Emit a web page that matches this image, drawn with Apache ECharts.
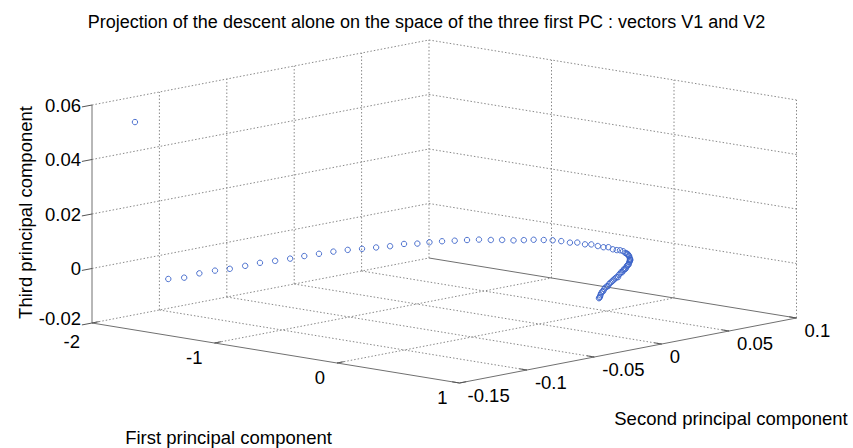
<!DOCTYPE html>
<html><head><meta charset="utf-8">
<script src="https://cdn.jsdelivr.net/npm/echarts@6/dist/echarts.min.js"></script>
<style>html,body{margin:0;padding:0;background:#fff}#c{width:853px;height:448px}</style>
</head><body><div id="c"></div>
<script>
// ---- data: the descent projected on the first three principal components ----
const pc1 = [-1.7,
 -1.4476,-1.3213,-1.2018,-1.0830,-0.9751,-0.8663,-0.7631,-0.6633,-0.5669,-0.4783,
 -0.3904,-0.3080,-0.2283,-0.1522,-0.0807,-0.0123,0.0532,0.1127,0.1649,0.2160,
 0.2654,0.3110,0.3532,0.3923,0.4281,0.4619,0.4913,0.5180,0.5432,0.5645,
 0.5838,0.6015,0.6167,0.6305,0.6422,0.6529,0.6617,0.6692,0.6755,0.6809,
 0.6852,0.6890,0.6918,0.6942,0.6958,0.6969,0.6973,0.7006,0.7039,0.7072,
 0.7105,0.7138,0.7171,0.7204,0.7237,0.7270,0.7303,0.7336,0.7369,0.7402,
 0.7435,0.7468,0.7500,0.7520,0.7540,
 0.6930,0.6950,0.6964,0.6971,0.6990,0.7022,0.7055,0.7088,0.7121,0.7154,
 0.7188,0.7220,0.7254,0.7286,0.7320,0.7352,0.7386,0.7418,0.7452,0.7484];
const pc2 = [-0.1454,
 -0.1436,-0.1434,-0.1429,-0.1421,-0.1410,-0.1395,-0.1378,-0.1357,-0.1333,-0.1308,
 -0.1279,-0.1247,-0.1213,-0.1176,-0.1137,-0.1096,-0.1051,-0.1007,-0.0964,-0.0917,
 -0.0868,-0.0818,-0.0768,-0.0716,-0.0665,-0.0612,-0.0561,-0.0512,-0.0460,-0.0413,
 -0.0367,-0.0320,-0.0278,-0.0235,-0.0197,-0.0159,-0.0126,-0.0095,-0.0069,-0.0044,
 -0.0023,-0.0004,0.0010,0.0023,0.0032,0.0038,0.0040,0.0035,0.0024,0.0011,
 -0.0004,-0.0020,-0.0037,-0.0055,-0.0075,-0.0096,-0.0118,-0.0139,-0.0161,-0.0182,
 -0.0202,-0.0220,-0.0231,-0.0236,-0.0242,
 0.0017,0.0028,0.0035,0.0039,0.0038,0.0030,0.0018,0.0004,-0.0012,-0.0028,
 -0.0046,-0.0065,-0.0086,-0.0107,-0.0128,-0.0150,-0.0171,-0.0192,-0.0211,-0.0226];
const pc3 = [0.0555,
 -0.0004,0.0013,0.0034,0.0052,0.0068,0.0086,0.0100,0.0115,0.0128,0.0139,
 0.0151,0.0162,0.0171,0.0177,0.0186,0.0192,0.0198,0.0202,0.0204,0.0207,
 0.0208,0.0209,0.0209,0.0208,0.0206,0.0203,0.0200,0.0196,0.0192,0.0188,
 0.0182,0.0177,0.0172,0.0165,0.0158,0.0152,0.0146,0.0140,0.0134,0.0128,
 0.0123,0.0118,0.0111,0.0106,0.0099,0.0092,0.0085,0.0078,0.0072,0.0066,
 0.0061,0.0055,0.0050,0.0043,0.0036,0.0030,0.0024,0.0018,0.0012,0.0005,
 -0.0002,-0.0012,-0.0023,-0.0025,-0.0027,
 0.0108,0.0103,0.0096,0.0089,0.0082,0.0075,0.0069,0.0063,0.0058,0.0052,
 0.0047,0.0040,0.0033,0.0027,0.0021,0.0015,0.0008,0.0001,-0.0007,-0.0018];

const xTicks = [-2, -1, 0, 1];
const yTicks = [-0.15, -0.1, -0.05, 0, 0.05, 0.1];
const zTicks = [-0.02, 0, 0.02, 0.04, 0.06];
const xTickLabels = ['-2', '-1', '0', '1'];
const yTickLabels = ['-0.15', '-0.1', '-0.05', '0', '0.05', '0.1'];
const zTickLabels = ['-0.02', '0', '0.02', '0.04', '0.06'];

const titleText = 'Projection of the descent alone on the space of the three first PC : vectors V1 and V2';
const xName = 'First principal component';
const yName = 'Second principal component';
const zName = 'Third principal component';

// ---- 3D box (orthographic view) ----
const X0 = xTicks[0], X1 = xTicks[xTicks.length - 1];
const Y0 = yTicks[0], Y1 = yTicks[yTicks.length - 1];
const Z0 = zTicks[0], Z1 = zTicks[zTicks.length - 1];
const ORIGIN = [92, 323];
const EX = [367.5, 60], EY = [337, -65], EZ = [0, -218];
function P(x, y, z) {
  const u = (x - X0) / (X1 - X0), v = (y - Y0) / (Y1 - Y0), w = (z - Z0) / (Z1 - Z0);
  return [ORIGIN[0] + u * EX[0] + v * EY[0] + w * EZ[0],
          ORIGIN[1] + u * EX[1] + v * EY[1] + w * EZ[1]];
}
const FONT = '"Liberation Sans", Arial, Helvetica, sans-serif';

// segments: [x1,y1,z1,x2,y2,z2,kind]  kind 0 = dotted grid, 1 = solid axis, 2 = tick
const segs = [];
yTicks.forEach(y => { if (y !== Y0) segs.push([X0, y, Z0, X0, y, Z1, 0]); });
zTicks.forEach(z => { segs.push([X0, Y0, z, X0, Y1, z, 0]); });
xTicks.forEach(x => { if (x !== X0) segs.push([x, Y1, Z0, x, Y1, Z1, 0]); });
zTicks.forEach(z => { segs.push([X0, Y1, z, X1, Y1, z, z === Z0 ? 1 : 0]); });
xTicks.forEach(x => { if (x !== X0 && x !== X1) segs.push([x, Y0, Z0, x, Y1, Z0, 0]); });
yTicks.forEach(y => { if (y !== Y0 && y !== Y1) segs.push([X0, y, Z0, X1, y, Z0, 0]); });
segs.push([X0, Y0, Z0, X0, Y0, Z1, 1]);
segs.push([X0, Y0, Z0, X1, Y0, Z0, 1]);
segs.push([X1, Y0, Z0, X1, Y1, Z0, 1]);
const dY = (Y1 - Y0), dX = (X1 - X0);
zTicks.forEach(z => segs.push([X0, Y0, z, X0, Y0 - 0.03 * dY, z, 2]));
xTicks.forEach(x => segs.push([x, Y0, Z0, x, Y0 + 0.02 * dY, Z0, 2]));
yTicks.forEach(y => segs.push([X1, y, Z0, X1 - 0.02 * dX, y, Z0, 2]));

// labels: [x,y,z,axisIndex,tickIndex]
const labels = [];
xTicks.forEach((x, i) => labels.push([x, Y0, Z0, 0, i]));
yTicks.forEach((y, i) => labels.push([X1, y, Z0, 1, i]));
zTicks.forEach((z, i) => labels.push([X0, Y0, z, 2, i]));

const points = pc1.map((v, i) => [v, pc2[i], pc3[i]]);

const chart = echarts.init(document.getElementById('c'), null, { renderer: 'svg', width: 853, height: 448 });
chart.setOption({
  animation: false,
  backgroundColor: '#fff',
  title: {
    text: titleText, left: 'center', top: 8,
    textStyle: { fontSize: 18, fontWeight: 'normal', color: '#000', fontFamily: FONT }
  },
  series: [
    {
      type: 'custom', coordinateSystem: 'none', silent: true, data: segs,
      renderItem: function (params, api) {
        const a = P(api.value(0), api.value(1), api.value(2));
        const b = P(api.value(3), api.value(4), api.value(5));
        const k = api.value(6);
        return {
          type: 'line',
          shape: { x1: a[0], y1: a[1], x2: b[0], y2: b[1] },
          style: k === 0 ? { stroke: '#8a8a8a', lineWidth: 1, lineDash: [1.5, 2] }
                         : { stroke: k === 1 ? '#707070' : '#555', lineWidth: 1 }
        };
      }
    },
    {
      type: 'custom', coordinateSystem: 'none', silent: true, data: labels,
      renderItem: function (params, api) {
        const p = P(api.value(0), api.value(1), api.value(2));
        const ax = api.value(3), ti = api.value(4);
        let text, x, y, align, va = 'middle';
        if (ax === 0) { text = xTickLabels[ti]; x = p[0] - 12; y = p[1] + (ti === 0 ? 18.5 : 14); align = 'right'; }
        else if (ax === 1) { text = yTickLabels[ti]; x = p[0] + 8; y = p[1] + 12; align = 'left'; }
        else { text = zTickLabels[ti]; x = p[0] - 11; y = p[1] - (ti === 0 ? 4.5 : 0); align = 'right'; }
        return {
          type: 'text', x: x, y: y,
          style: { text: text, fill: '#000', fontSize: 18.5, fontFamily: FONT, lineHeight: 14,
                   align: align, verticalAlign: va, textAlign: align, textVerticalAlign: va }
        };
      }
    },
    {
      type: 'custom', coordinateSystem: 'none', silent: true, data: points,
      renderItem: function (params, api) {
        const p = P(api.value(0), api.value(1), api.value(2));
        return {
          type: 'circle', shape: { cx: p[0], cy: p[1], r: 2.7 },
          style: { fill: 'none', stroke: '#3a62c8', lineWidth: 0.9 }
        };
      }
    }
  ],
  graphic: [
    { type: 'text', x: 228.5, y: 437, style: { text: xName, fill: '#000', fontSize: 18.5, fontFamily: FONT, align: 'center', verticalAlign: 'middle' } },
    { type: 'text', x: 731, y: 418, style: { text: yName, fill: '#000', fontSize: 18.5, fontFamily: FONT, align: 'center', verticalAlign: 'middle' } },
    { type: 'text', x: 25, y: 212.5, rotation: Math.PI / 2, style: { text: zName, fill: '#000', fontSize: 18.5, fontFamily: FONT, align: 'center', verticalAlign: 'middle' } }
  ]
});
</script></body></html>
